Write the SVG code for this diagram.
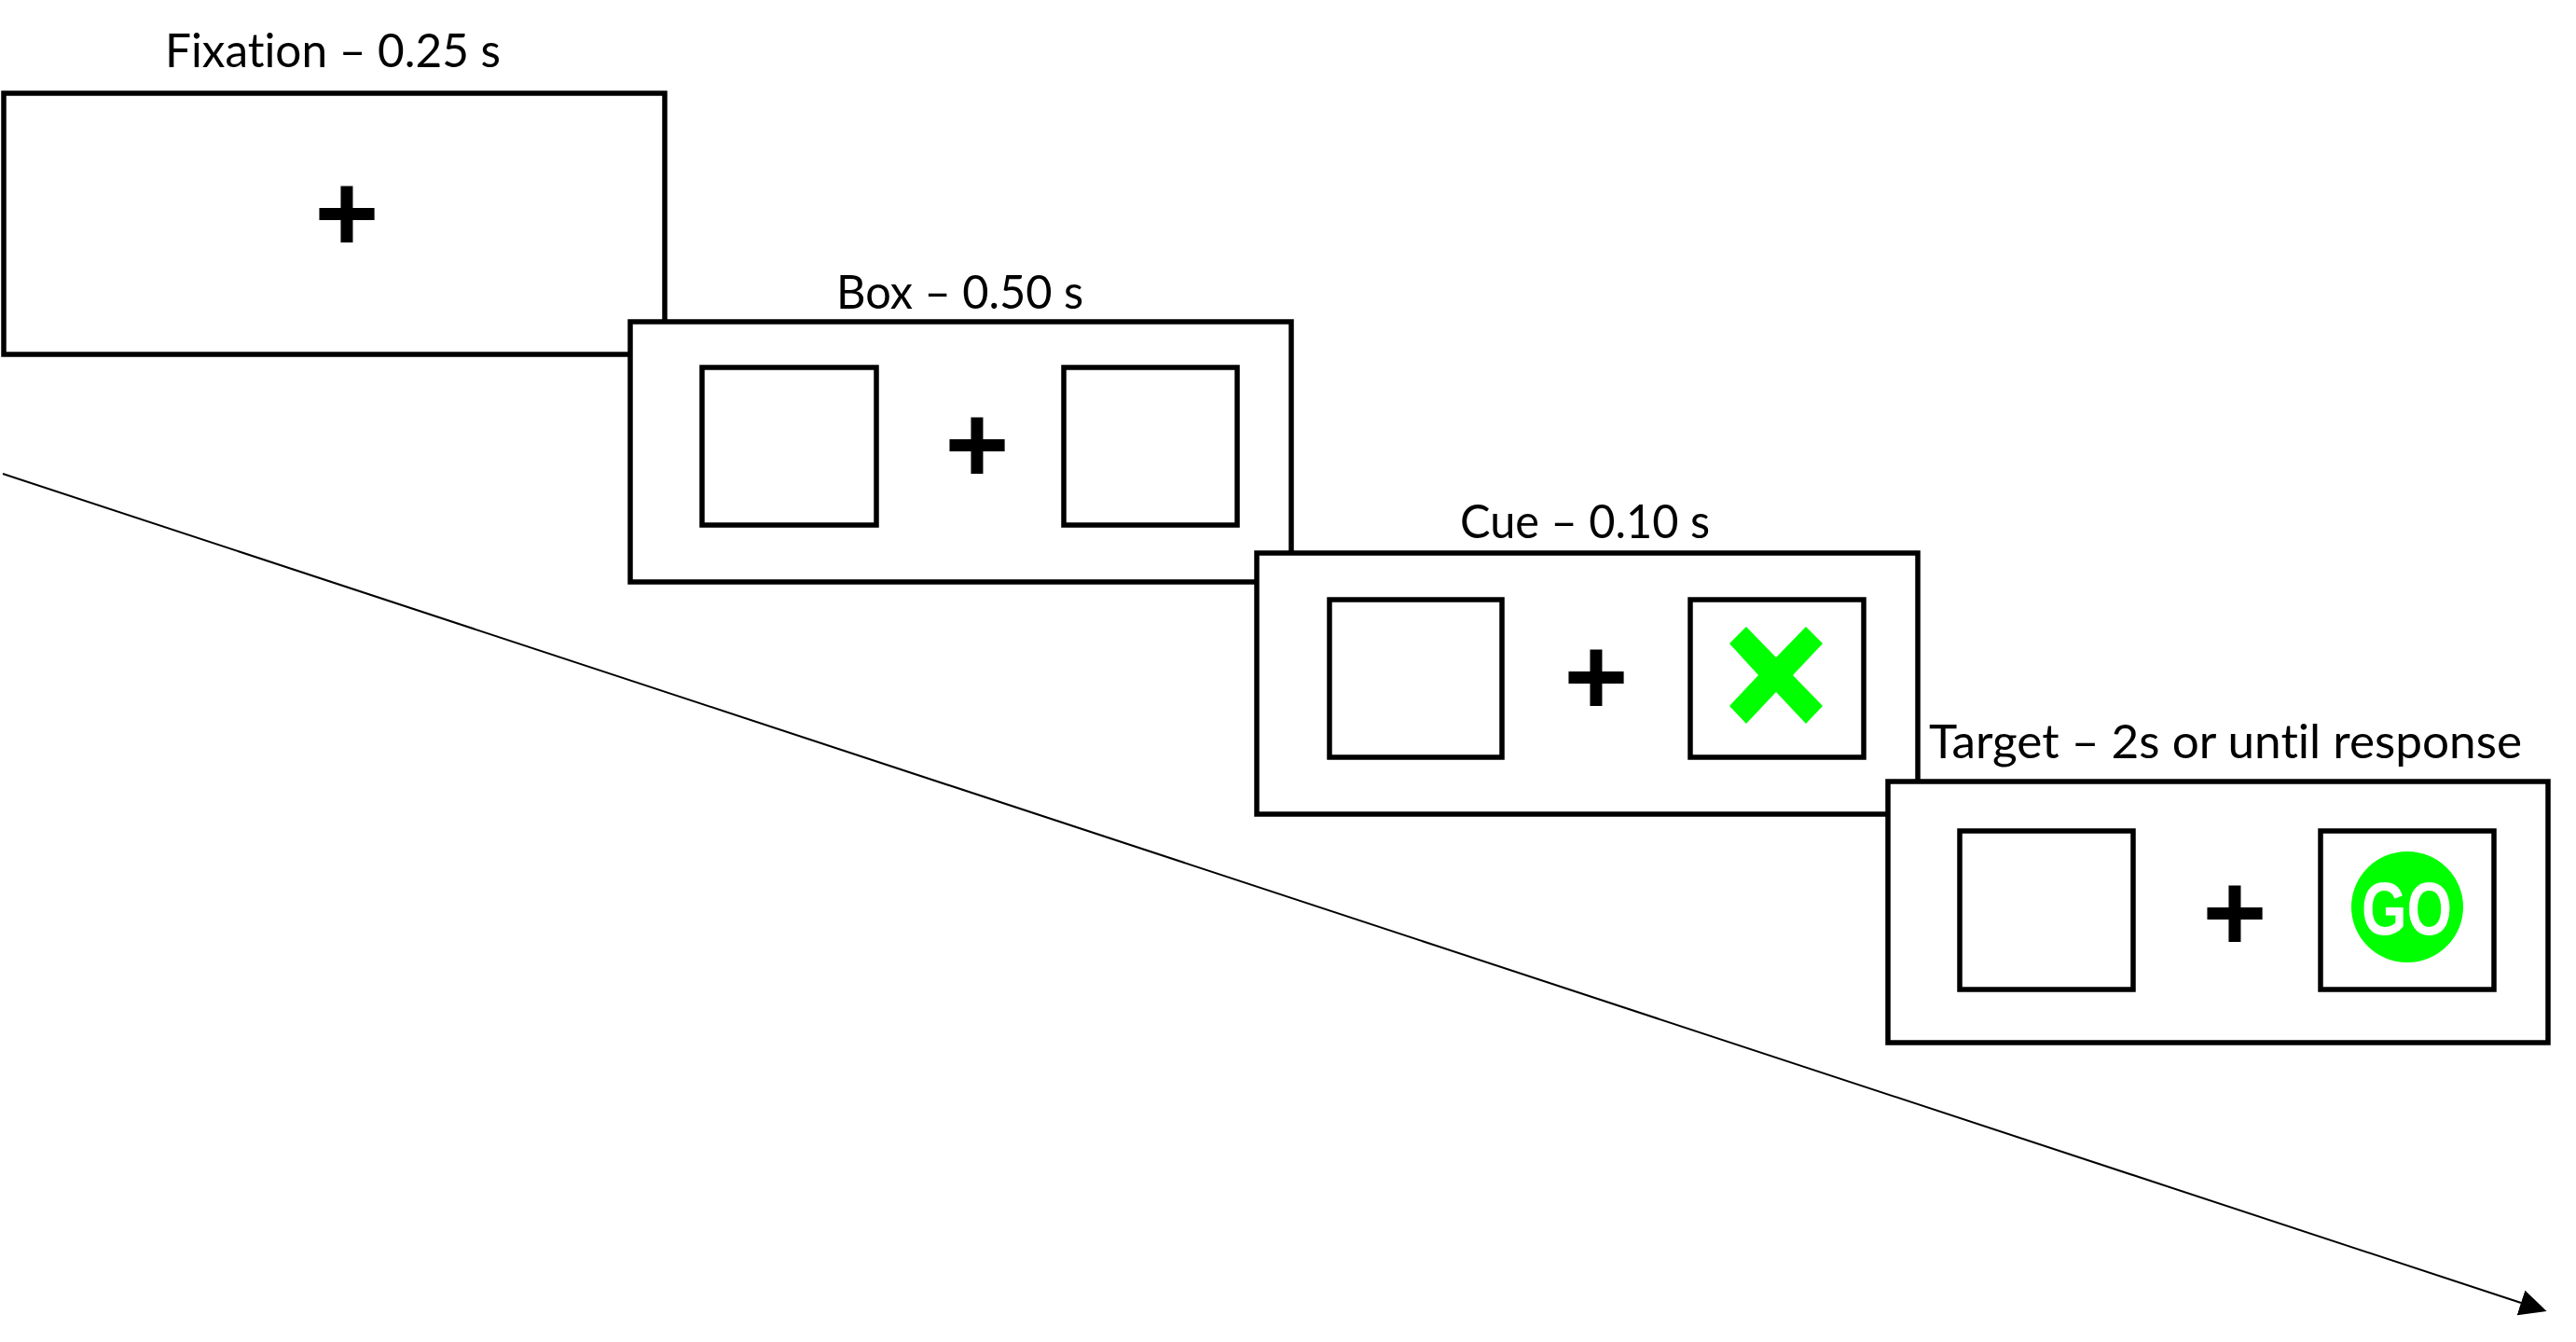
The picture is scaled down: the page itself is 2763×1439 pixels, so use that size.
<svg xmlns="http://www.w3.org/2000/svg" width="2763" height="1439" viewBox="0 0 2763 1439">
<defs>
<style>
.frame{fill:#fff;stroke:#000;stroke-width:5.5}
.inner{fill:#fff;stroke:#000;stroke-width:5.5}
.label{font-family:"Lato","Liberation Sans",sans-serif;font-size:50px;fill:#000;font-variant-ligatures:none}
.plus{font-family:"Liberation Sans",Arial,sans-serif;font-weight:700;font-size:118px;fill:#000;text-anchor:middle}
.go{font-family:"Liberation Sans",Arial,sans-serif;font-weight:700;font-size:80px;fill:#fff}
</style>
<marker id="arrow" markerUnits="userSpaceOnUse" markerWidth="29" markerHeight="28" refX="0" refY="14" orient="auto" viewBox="0 0 29 28"><path d="M0 0L29 14L0 28z" fill="#000"/></marker>
</defs>
<rect width="2763" height="1439" fill="#fff"/>
<g id="connectors">
<line x1="3" y1="508" x2="2704" y2="1397" stroke="#000" stroke-width="2" marker-end="url(#arrow)"/>
</g>
<g id="fixation">
<text class="label" x="177" y="72" textLength="360" lengthAdjust="spacingAndGlyphs">Fixation – 0.25 s</text>
<rect class="frame" x="4" y="100" width="709" height="280"/>
<text class="plus" x="372" y="269">+</text>
</g>
<g id="box">
<text class="label" x="897" y="331" textLength="265" lengthAdjust="spacingAndGlyphs">Box – 0.50 s</text>
<rect class="frame" x="676" y="345" width="709" height="279"/>
<rect class="inner" x="753" y="394" width="187" height="169"/>
<rect class="inner" x="1141" y="394" width="186" height="169"/>
<text class="plus" x="1048" y="517">+</text>
</g>
<g id="cue">
<text class="label" x="1566" y="577" textLength="268" lengthAdjust="spacingAndGlyphs">Cue – 0.10 s</text>
<rect class="frame" x="1348" y="593" width="709" height="280"/>
<rect class="inner" x="1426" y="643" width="185" height="169"/>
<rect class="inner" x="1813" y="643" width="186" height="169"/>
<text class="plus" x="1712" y="766">+</text>
<polygon fill="#00ff00" points="1873,672 1855,690 1886,724 1855,757 1873,776 1905,742 1937,776 1955,757 1923,724 1955,690 1937,672 1905,705"/>
</g>
<g id="target">
<text class="label" x="2069" y="813" textLength="636" lengthAdjust="spacingAndGlyphs">Target – 2s or until response</text>
<rect class="frame" x="2025" y="838" width="708" height="280"/>
<rect class="inner" x="2102" y="891" width="186" height="170"/>
<rect class="inner" x="2489" y="891" width="186" height="170"/>
<text class="plus" x="2397" y="1019">+</text>
<ellipse cx="2582" cy="972.5" rx="60" ry="59.5" fill="#00ff00"/>
<text class="go" x="2533" y="1002" textLength="97" lengthAdjust="spacingAndGlyphs">GO</text>
</g>
</svg>
